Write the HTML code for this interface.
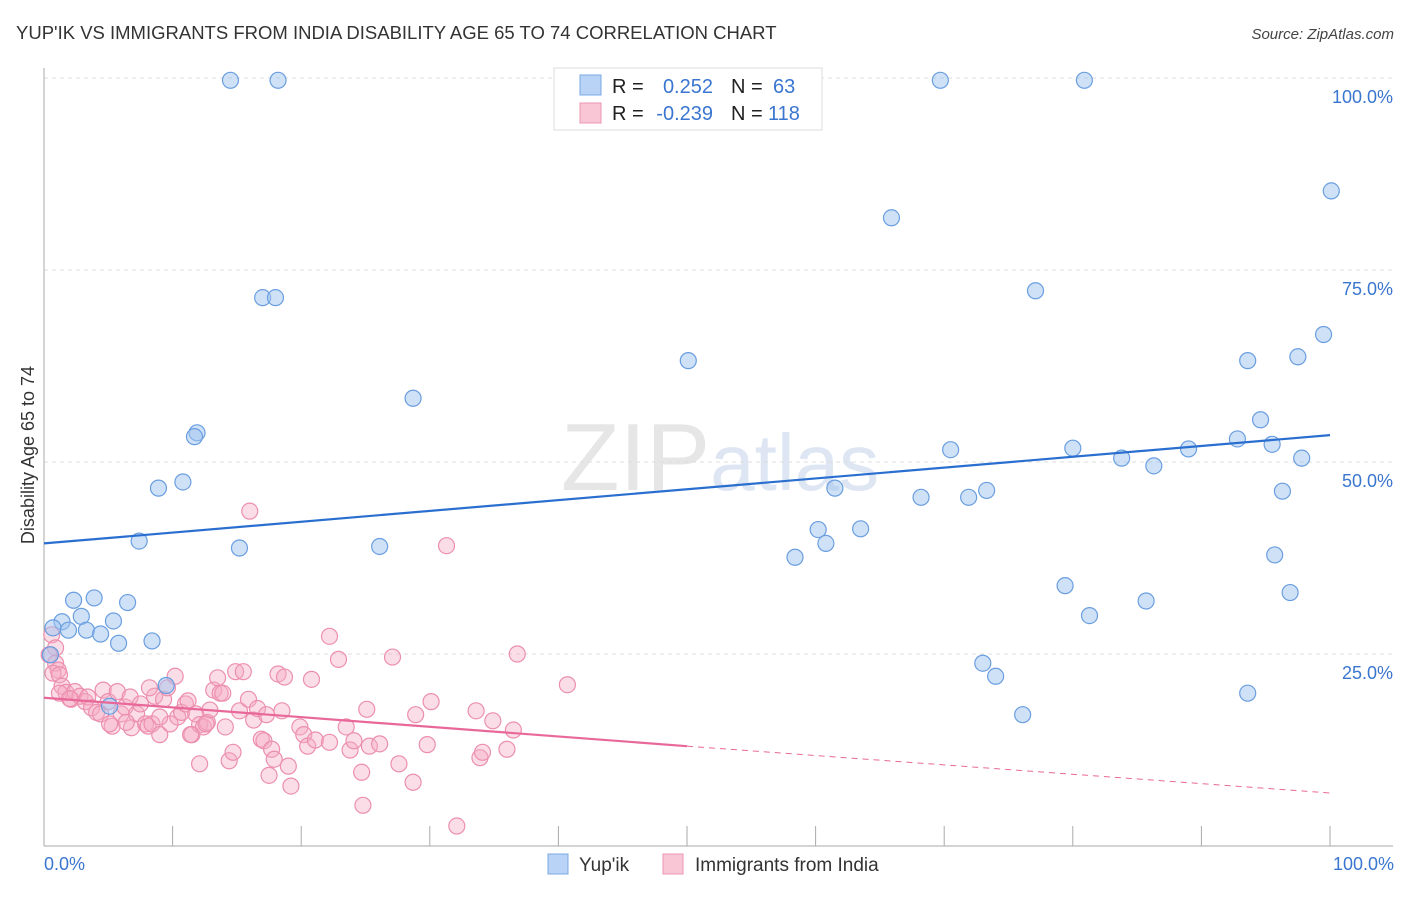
<!DOCTYPE html>
<html><head><meta charset="utf-8"><style>
body{margin:0;background:#fff;font-family:"Liberation Sans",sans-serif}
svg text{font-family:"Liberation Sans",sans-serif}
</style></head><body>
<svg width="1406" height="892" xmlns="http://www.w3.org/2000/svg">
<text x="16" y="39" font-size="18.5" fill="#333">YUP'IK VS IMMIGRANTS FROM INDIA DISABILITY AGE 65 TO 74 CORRELATION CHART</text>
<text x="1394" y="39" font-size="15" fill="#444" font-style="italic" text-anchor="end">Source: ZipAtlas.com</text>
<text x="720" y="490" font-size="96" fill="#e6e6e6" text-anchor="middle" font-family="Liberation Serif">ZIP<tspan fill="#dde6f2" font-family="Liberation Sans" font-size="80">atlas</tspan></text>
<g id="grid"></g>
<g id="axes"></g>
<g id="pts"></g>
<g id="trend"></g>
<text transform="translate(34,455) rotate(-90)" font-size="18" fill="#333" text-anchor="middle">Disability Age 65 to 74</text>
<g>
<rect x="554" y="68" width="268" height="62" fill="#fff" stroke="#ddd"/>
<rect x="580" y="75" width="21" height="20" fill="#b8d3f5" stroke="#7aa8e3"/>
<rect x="580" y="103" width="21" height="20" fill="#f9c6d6" stroke="#ec95b1"/>
<text x="612" y="93" font-size="20" fill="#222">R = </text><text x="713" y="93" font-size="20" fill="#3a76d0" text-anchor="end">0.252</text>
<text x="731" y="93" font-size="20" fill="#222">N = </text><text x="773" y="93" font-size="20" fill="#3a76d0">63</text>
<text x="612" y="120" font-size="20" fill="#222">R = </text><text x="713" y="120" font-size="20" fill="#3a76d0" text-anchor="end">-0.239</text>
<text x="731" y="120" font-size="20" fill="#222">N = </text><text x="768" y="120" font-size="20" fill="#3a76d0">118</text>
</g>
<g>
<rect x="548" y="854" width="20" height="20" fill="#b8d3f5" stroke="#7aa8e3"/>
<text x="579" y="871" font-size="19" fill="#333">Yup'ik</text>
<rect x="663" y="854" width="20" height="20" fill="#f9c6d6" stroke="#ec95b1"/>
<text x="695" y="871" font-size="19" fill="#333">Immigrants from India</text>
</g>
</svg>
<script>
const yTicks=[25,50,75,100];
const yTickLabels=["25.0%","50.0%","75.0%","100.0%"];
const xTickLabels=["0.0%","100.0%"];
const blueX=[14.5,18.2,69.7,80.9,100.1,65.9,77.1,17,18,50.1,99.5,93.6,97.5,28.7,11.9,11.7,94.6,92.8,70.5,80,95.5,83.8,86.3,89,97.8,8.9,10.8,61.5,68.2,71.9,73.3,96.3,7.4,15.2,26.1,60.2,60.8,63.5,58.4,95.7,2.3,3.9,6.5,79.4,85.7,96.9,2.9,1.4,5.4,81.3,0.7,1.9,3.3,4.4,8.4,5.8,73,74,93.6,76.1,9.5,5.1,0.5];
const blueY=[99.7,99.7,99.7,99.7,85.3,81.8,72.3,71.4,71.4,63.2,66.6,63.2,63.7,58.3,53.8,53.3,55.5,53,51.6,51.8,52.3,50.5,49.5,51.7,50.5,46.6,47.4,46.6,45.4,45.4,46.3,46.2,39.7,38.8,39,41.2,39.4,41.3,37.6,37.9,32,32.3,31.7,33.9,31.9,33,29.9,29.2,29.3,30,28.4,28.1,28.1,27.6,26.7,26.4,23.8,22.1,19.9,17.1,20.9,18.2,24.9];
const pinkX=[0.6,0.9,0.4,0.9,1.1,0.7,1.2,1.4,1.7,2.1,2.4,2.8,3.2,3.4,3.7,4.1,4.4,4.6,5,5.3,5.7,6,6.3,6.7,6.8,7.2,7.5,7.9,8.1,8.4,8.6,9,9.3,9.6,9.8,10.2,10.4,10.7,11,11.2,11.5,11.8,12.1,12.4,12.7,12.9,13.2,13.5,13.7,13.9,14.1,14.4,14.7,14.9,15.2,15.5,15.9,16,16.3,16.6,16.9,17.1,17.3,17.5,17.7,17.9,18.2,18.5,18.7,19,19.2,19.9,20.2,20.5,20.8,21.1,22.2,22.2,22.9,23.5,23.8,24.1,24.7,24.8,25.1,25.3,26.1,27.1,27.6,28.7,28.9,29.8,30.1,31.3,32.1,33.6,33.9,34.1,34.9,36,36.5,36.8,40.7,12.1,9,1.2,2,5.1,8.2,6.4,11.4,12.6];
const pinkY=[27.5,25.8,24.9,23.8,22.9,22.5,22.3,20.8,20,19.1,20.1,19.5,18.8,19.4,18,17.4,17.2,20.3,18.8,15.6,20.1,17.2,18.1,19.4,15.4,17.2,18.5,15.9,15.6,15.9,19.5,14.5,19.1,20.6,15.9,22.1,16.8,17.4,18.5,18.9,14.5,17.2,15.8,15.5,16.1,17.7,20.3,21.9,19.9,19.9,15.5,11.1,12.2,22.7,17.6,22.7,19.1,43.6,16.4,17.9,13.9,13.7,17.1,9.2,12.6,11.3,22.4,17.6,22,10.4,7.8,15.5,14.5,13,21.7,13.8,27.3,13.5,24.3,15.5,12.5,13.7,9.6,5.3,17.8,13,13.3,24.6,10.7,8.3,17.1,13.2,18.8,39.1,2.6,17.6,11.5,12.2,16.3,12.6,15.1,25,21,10.7,16.8,19.9,19.2,15.9,20.6,16.1,14.5,15.9];
const trendBlue=[39.4,53.5];
const trendPink=[19.3,13,6.9];
const NS="http://www.w3.org/2000/svg";
const X=v=>44+v*12.86, Y=v=>846-v*7.68;
function mk(t,a,p){const e=document.createElementNS(NS,t);for(const k in a)e.setAttribute(k,a[k]);p.appendChild(e);return e;}
const grid=document.getElementById('grid'),axes=document.getElementById('axes');
yTicks.forEach((t,i)=>{
 const l=mk('line',{x1:44,x2:1393,y1:Y(t),y2:Y(t),stroke:'#ddd','stroke-dasharray':'4,4'},grid);
 
 
 const tx=mk('text',{x:1393,y:Y(t)+25,'font-size':18,fill:'#3a76d0','text-anchor':'end'},axes);tx.textContent=yTickLabels[i];
 
 
});
mk('line',{x1:44,x2:44,y1:68,y2:846,stroke:'#aaa'},axes);
mk('line',{x1:44,x2:1393,y1:846,y2:846,stroke:'#aaa'},axes);
for(let i=0;i<=10;i++){const t=mk('line',{x1:X(i*10),x2:X(i*10),y1:826,y2:846,stroke:'#aaa'},axes);
 
 }
[[0,'start',44],[100,'end',1394]].forEach((d,i)=>{const t=mk('text',{x:d[2],y:870,'font-size':18,fill:'#3a76d0','text-anchor':d[1]},axes);t.textContent=xTickLabels[i];
 
 });
const pts=document.getElementById('pts');
pinkX.forEach((x,i)=>{const c=mk('circle',{cx:X(x),cy:Y(pinkY[i]),r:8,fill:'rgba(246,170,195,0.4)',stroke:'#ec8fae','stroke-width':1.2},pts);
 
 });
blueX.forEach((x,i)=>{const c=mk('circle',{cx:X(x),cy:Y(blueY[i]),r:8,fill:'rgba(160,196,240,0.5)',stroke:'#6a9ee0','stroke-width':1.2},pts);
 
 });
const tr=document.getElementById('trend');
let a=mk('line',{x1:X(0),y1:Y(trendBlue[0]),x2:X(100),y2:Y(trendBlue[1]),stroke:'#2a6fd0','stroke-width':2.2},tr);


a=mk('line',{x1:X(0),y1:Y(trendPink[0]),x2:X(50),y2:Y(trendPink[1]),stroke:'#e8689a','stroke-width':2.2},tr);


a=mk('line',{x1:X(50),y1:Y(trendPink[1]),x2:X(100),y2:Y(trendPink[2]),stroke:'#e8689a','stroke-width':1,'stroke-dasharray':'6,5'},tr);


</script>
</body></html>
